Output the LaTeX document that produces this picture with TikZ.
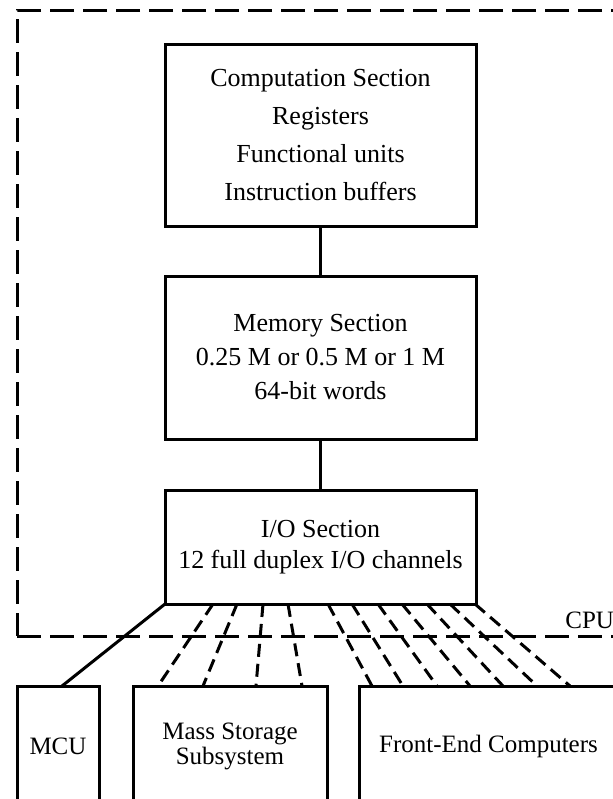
\documentclass[tikz,border=0pt]{standalone}
\usepackage{fontspec}
\setmainfont{Liberation Serif}
\usetikzlibrary{calc}
\begin{document}
\begin{tikzpicture}[x=0.5pt,y=-0.5pt,
  box/.style={draw,line width=1.5pt,inner sep=0pt,outer sep=0pt,align=center},
  link/.style={line width=1.5pt},
  chan/.style={line width=1.5pt,dash pattern=on 6.5pt off 3.5pt},
  frame/.style={draw,line width=1.5pt,dash pattern=on 12pt off 4.5pt,inner sep=0pt,outer sep=0pt},
  big/.style={font=\fontsize{13}{#1}\selectfont},
  small/.style={font=\fontsize{12.5}{12.5}\selectfont}]
\useasboundingbox (0,0) rectangle (613,799);
\clip (0,0) rectangle (613,799);
\fill[white] (0,0) rectangle (613,799);
% CPU frame
\node[frame,minimum width=311.5pt,minimum height=313pt] (cpubox) at (328.5,323) {};
\node[anchor=base west,inner sep=0pt,small] (cpu) at (565,628) {CPU};
% CPU sections
\node[box,big=19,minimum width=155.5pt,minimum height=91pt] (comp) at (320.5,135)
  {Computation Section\\Registers\\Functional units\\Instruction buffers};
\node[box,big=17,minimum width=155.5pt,minimum height=81.5pt] (mem) at (320.5,357.5)
  {Memory Section\\0.25 M or 0.5 M or 1 M\\64-bit words};
\node[box,big=15.5,minimum width=155.5pt,minimum height=57pt] (io) at (320.5,547)
  {I/O Section\\12 full duplex I/O channels};
% peripherals
\node[box,small,minimum width=41pt,minimum height=60pt] (mcu) at (58,746) {MCU};
\node[box,small,minimum width=97pt,minimum height=60pt] (mass) at (230,746) {Mass Storage\\Subsystem};
\node[box,small,minimum width=129.5pt,minimum height=60pt] (front) at (488.5,746) {Front-End Computers};
% internal links
\draw[link] (comp.south) -- (mem.north);
\draw[link] (mem.south) -- (io.north);
% channel to MCU
\draw[link] (io.south west) -- ($(mcu.north west)+(45,0)$);
% channels to mass storage
\foreach \a/\b in {48/25, 72/70, 98/123, 123/169}
  \draw[chan] ($(io.south west)+(\a,0)$) -- ($(mass.north west)+(\b,0)$);
% channels to front-end computers
\foreach \a/\b in {163/13, 187/44, 213/78, 237/111, 262/144, 285/178, 310/211}
  \draw[chan] ($(io.south west)+(\a,0)$) -- ($(front.north west)+(\b,0)$);
\end{tikzpicture}
\end{document}
